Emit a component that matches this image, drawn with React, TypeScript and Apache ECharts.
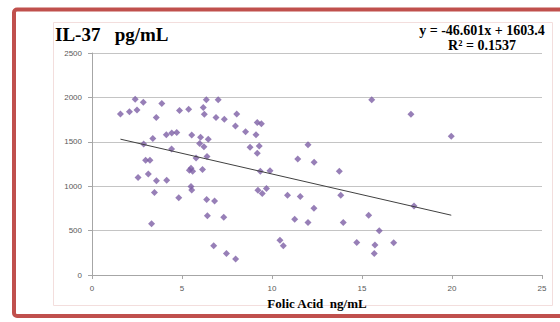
import React, { useEffect, useRef } from "react";
import * as echarts from "echarts";

// Folic acid (ng/mL) per subject
const folicAcid = [
  1.58, 2.08, 2.4, 2.5, 2.85, 3.57, 3.88, 4.86, 5.37, 6.35, 6.18, 6.24, 7.01, 6.89, 7.35, 8.04,
  7.97, 8.53, 9.18, 9.41, 9.11, 15.54, 17.72, 19.96, 3.38, 2.87, 4.13, 4.43, 4.71, 5.54, 6.03,
  6.46, 5.98, 6.22, 4.42, 5.78, 6.39, 2.98, 3.22, 5.5, 5.41, 5.59, 6.14, 2.56, 3.13, 3.58, 4.15,
  3.47, 5.5, 5.54, 4.82, 6.37, 6.81, 6.41, 7.32, 3.31, 6.76, 7.47, 7.98, 8.78, 9.29, 9.18, 11.43,
  12.0, 12.34, 13.74, 9.35, 9.89, 9.22, 9.46, 9.69, 10.86, 11.57, 13.82, 12.33, 11.26, 12.0,
  13.96, 15.37, 17.89, 15.96, 14.71, 15.72, 16.76, 15.68, 10.44, 10.63,
];

// IL-37 (pg/mL) per subject
const il37 = [
  1814, 1837, 1980, 1859, 1946, 1774, 1932, 1852, 1867, 1974, 1886, 1811, 1974, 1774, 1755, 1814,
  1679, 1614, 1717, 1702, 1580, 1974, 1811, 1563, 1537, 1476, 1578, 1599, 1606, 1577, 1552,
  1529, 1482, 1445, 1419, 1318, 1334, 1291, 1291, 1203, 1180, 1169, 1189, 1098, 1137, 1060, 1068,
  929, 997, 957, 869, 850, 834, 666, 651, 578, 328, 242, 181, 1439, 1454, 1372, 1307,
  1467, 1270, 1167, 1167, 1175, 953, 918, 975, 899, 885, 899, 752, 628, 591,
  591, 673, 778, 497, 366, 339, 364, 242, 392, 328,
];

const xAxisRange = [0, 25, 5];
const yAxisRange = [0, 2500, 500];

const slope = -46.601;
const intercept = 1603.4;
const rSquared = 0.1537;

const titleText = "IL-37   pg/mL";
const xAxisName = "Folic Acid  ng/mL";

export default function App() {
  const ref = useRef<HTMLDivElement>(null);

  useEffect(() => {
    if (!ref.current) return;
    const chart = echarts.init(ref.current, undefined, { renderer: "svg" });

    const points = folicAcid.map((x, i) => [x, il37[i]]);
    const xMin = Math.min(...folicAcid);
    const xMax = Math.max(...folicAcid);
    const trend = [
      [xMin, slope * xMin + intercept],
      [xMax, slope * xMax + intercept],
    ];
    const eqText = `y = ${slope}x + ${intercept}`;
    const r2Text = `R² = ${rSquared}`;

    const serif = '"Liberation Serif", "Times New Roman", serif';
    const sans = '"Liberation Sans", Arial, sans-serif';

    chart.setOption({
      animation: false,
      backgroundColor: "#ffffff",
      grid: { left: 92, right: 18, top: 53, bottom: 47 },
      graphic: [
        {
          type: "rect",
          shape: { x: 14, y: 9.6, width: 560, height: 306.4, r: 3 },
          style: { fill: "none", stroke: "#c0504d", lineWidth: 4 },
          silent: true,
        },
        {
          type: "rect",
          shape: { x: 53.5, y: 22.5, width: 499, height: 283 },
          style: { fill: "none", stroke: "#f3dedd", lineWidth: 1 },
          silent: true,
        },
        {
          type: "text",
          x: 55,
          y: 34,
          style: {
            text: titleText,
            font: `bold 19px ${serif}`,
            fill: "#000000",
            align: "left",
            verticalAlign: "middle",
          },
        },
        {
          type: "text",
          x: 482,
          y: 30.5,
          style: {
            text: eqText,
            font: `bold 14px ${serif}`,
            fill: "#000000",
            align: "center",
            verticalAlign: "middle",
          },
        },
        {
          type: "text",
          x: 482,
          y: 45.5,
          style: {
            text: r2Text,
            font: `bold 14px ${serif}`,
            fill: "#000000",
            align: "center",
            verticalAlign: "middle",
          },
        },
      ],
      xAxis: {
        type: "value",
        min: xAxisRange[0],
        max: xAxisRange[1],
        interval: xAxisRange[2],
        name: xAxisName,
        nameLocation: "middle",
        nameGap: 21,
        nameTextStyle: {
          fontFamily: serif,
          fontWeight: "bold",
          fontSize: 13,
          color: "#000000",
        },
        axisLine: { show: true, lineStyle: { color: "#a6a6a6", width: 1 } },
        axisTick: { show: true, length: 4, lineStyle: { color: "#a6a6a6" } },
        splitLine: { show: false },
        axisLabel: { fontSize: 8, color: "#595959", margin: 9, fontFamily: sans },
      },
      yAxis: {
        type: "value",
        min: yAxisRange[0],
        max: yAxisRange[1],
        interval: yAxisRange[2],
        axisLine: { show: true, lineStyle: { color: "#a6a6a6", width: 1 } },
        axisTick: { show: true, length: 4, lineStyle: { color: "#a6a6a6" } },
        splitLine: { show: true, lineStyle: { color: "#c4c4c4", width: 1 } },
        axisLabel: {
          fontSize: 8,
          color: "#595959",
          margin: 10,
          fontFamily: sans,
          formatter: (v: number) => String(v),
        },
      },
      series: [
        {
          type: "scatter",
          data: points,
          symbol: "diamond",
          symbolSize: 7,
          itemStyle: { color: "#7d5fa5" },
          silent: true,
        },
        {
          type: "line",
          data: trend,
          symbol: "none",
          lineStyle: { color: "#404040", width: 1 },
          silent: true,
          z: 3,
        },
      ],
    });

    return () => chart.dispose();
  }, []);

  return (
    <div
      style={{
        position: "fixed",
        left: 0,
        top: 0,
        width: 560,
        height: 322,
        background: "#ffffff",
        overflow: "hidden",
      }}
    >
      <div ref={ref} style={{ width: 560, height: 322 }} />
    </div>
  );
}
